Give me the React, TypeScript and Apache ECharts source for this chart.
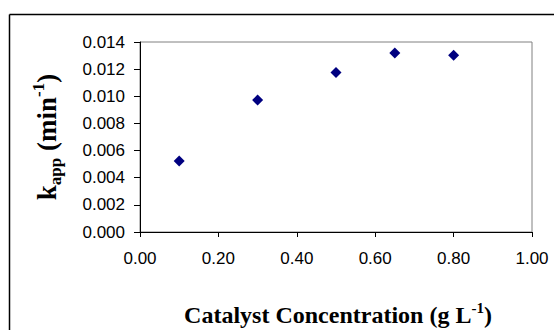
import React, { useEffect, useRef } from "react";
import * as echarts from "echarts";

const concentration = [0.1, 0.3, 0.5, 0.65, 0.8];
const kapp = [0.00524, 0.00972, 0.01175, 0.01319, 0.01302];
const xTicks = { min: 0, max: 1, interval: 0.2 };
const yTicks = { min: 0, max: 0.014, interval: 0.002 };

const serif = "'Liberation Serif', 'Times New Roman', serif";
const sans = "'Liberation Sans', Arial, sans-serif";

export default function App() {
  const ref = useRef<HTMLDivElement>(null);
  useEffect(() => {
    if (!ref.current) return;
    const chart = echarts.init(ref.current, null, { renderer: "svg" });
    const richX = {
      m: { fontFamily: serif, fontWeight: "bold", fontSize: 24, lineHeight: 30, color: "#000" },
      sup: { fontFamily: serif, fontWeight: "bold", fontSize: 15, lineHeight: 15, verticalAlign: "top", color: "#000" },
    };
    const richY = {
      m: { fontFamily: serif, fontWeight: "bold", fontSize: 27, lineHeight: 34, color: "#000" },
      sup: { fontFamily: serif, fontWeight: "bold", fontSize: 17, lineHeight: 17, verticalAlign: "top", color: "#000" },
      sub: { fontFamily: serif, fontWeight: "bold", fontSize: 17, lineHeight: 17, verticalAlign: "bottom", color: "#000" },
    };
    chart.setOption({
      animation: false,
      backgroundColor: "#fff",
      grid: {
        left: 140,
        right: 22,
        top: 42,
        bottom: 98,
        show: true,
        borderColor: "#808080",
        borderWidth: 1,
        containLabel: false,
      },
      xAxis: {
        type: "value",
        min: xTicks.min,
        max: xTicks.max,
        interval: xTicks.interval,
        axisLine: { show: true, onZero: false, lineStyle: { color: "#000", width: 1 } },
        axisTick: { show: true, inside: false, length: 5, lineStyle: { color: "#000" } },
        splitLine: { show: false },
        axisLabel: {
          color: "#000",
          fontFamily: sans,
          fontSize: 17,
          margin: 18,
          formatter: (v: number) => v.toFixed(2),
        },
      },
      yAxis: {
        type: "value",
        min: yTicks.min,
        max: yTicks.max,
        interval: yTicks.interval,
        axisLine: { show: true, onZero: false, lineStyle: { color: "#000", width: 1 } },
        axisTick: { show: true, inside: false, length: 6, lineStyle: { color: "#000" } },
        splitLine: { show: false },
        axisLabel: {
          color: "#000",
          fontFamily: sans,
          fontSize: 17,
          margin: 15,
          formatter: (v: number) => v.toFixed(3),
        },
      },
      series: [
        {
          type: "scatter",
          data: concentration.map((x, i) => [x, kapp[i]]),
          symbol: "diamond",
          symbolSize: [11, 11],
          itemStyle: { color: "#000080", opacity: 1 },
        },
      ],
      graphic: [
        {
          type: "line",
          shape: { x1: 9.5, y1: 14.5, x2: 560, y2: 14.5 },
          style: { stroke: "#000", lineWidth: 1.5 },
          silent: true,
        },
        {
          type: "line",
          shape: { x1: 9.5, y1: 14.5, x2: 9.5, y2: 340 },
          style: { stroke: "#000", lineWidth: 1.5 },
          silent: true,
        },
        {
          type: "text",
          x: 338,
          y: 315,
          style: {
            text: "{m|Catalyst Concentration (g L}{sup|-1}{m|)}",
            rich: richX,
            align: "center",
            verticalAlign: "middle",
          },
        },
        {
          type: "text",
          x: 47,
          y: 137,
          rotation: Math.PI / 2,
          style: {
            text: "{m|k}{sub|app}{m| (min}{sup|-1}{m|)}",
            rich: richY,
            align: "center",
            verticalAlign: "middle",
          },
        },
      ],
    });
    return () => chart.dispose();
  }, []);
  return (
    <div
      ref={ref}
      style={{ position: "fixed", left: 0, top: 0, width: 554, height: 330, overflow: "hidden" }}
    />
  );
}
